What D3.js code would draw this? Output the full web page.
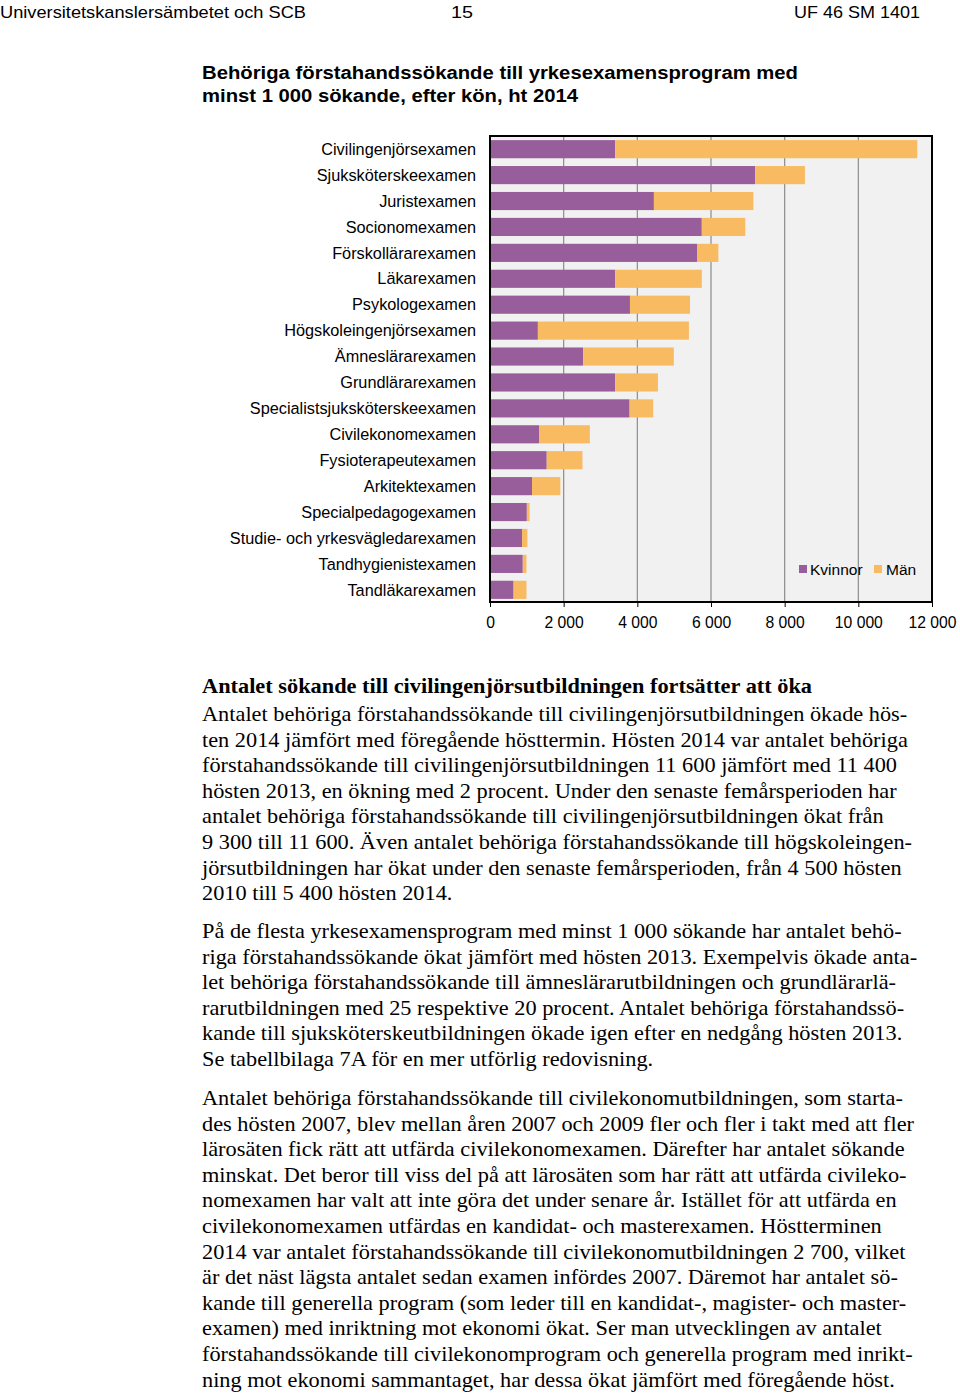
<!DOCTYPE html>
<html>
<head>
<meta charset="utf-8">
<script src="https://cdn.jsdelivr.net/npm/d3@7"></script>
<style>
  html, body { margin: 0; padding: 0; background: #fff; }
  svg { display: block; }
</style>
</head>
<body>
<svg id="page" width="960" height="1393"></svg>
<script>
const categories = [
  "Civilingenjörsexamen", "Sjuksköterskeexamen", "Juristexamen", "Socionomexamen",
  "Förskollärarexamen", "Läkarexamen", "Psykologexamen", "Högskoleingenjörsexamen",
  "Ämneslärarexamen", "Grundlärarexamen", "Specialistsjuksköterskeexamen",
  "Civilekonomexamen", "Fysioterapeutexamen", "Arkitektexamen", "Specialpedagogexamen",
  "Studie- och yrkesvägledarexamen", "Tandhygienistexamen", "Tandläkarexamen"
];
const women = [3400, 7200, 4450, 5750, 5620, 3400, 3800, 1300, 2530, 3400, 3790, 1330, 1540, 1140, 1000, 870, 890, 640];
const men   = [8200, 1350, 2700, 1180,  580, 2350, 1630, 4100, 2460, 1160,  640, 1380,  970,  770,   75, 145, 100, 350];
const xTicks = [0, 2000, 4000, 6000, 8000, 10000, 12000];
const seriesNames = ["Kvinnor", "Män"];
const seriesColors = ["#985d9b", "#f8bb61"];

const headerLeft = "Universitetskanslersämbetet och SCB";
const headerMid = "15";
const headerRight = "UF 46 SM 1401";
const titleLines = [
  "Behöriga förstahandssökande till yrkesexamensprogram med",
  "minst 1 000 sökande, efter kön, ht 2014"
];
const heading = "Antalet sökande till civilingenjörsutbildningen fortsätter att öka";
const para1 = [
  "Antalet behöriga förstahandssökande till civilingenjörsutbildningen ökade hös-",
  "ten 2014 jämfört med föregående hösttermin. Hösten 2014 var antalet behöriga",
  "förstahandssökande till civilingenjörsutbildningen 11 600 jämfört med 11 400",
  "hösten 2013, en ökning med 2 procent. Under den senaste femårsperioden har",
  "antalet behöriga förstahandssökande till civilingenjörsutbildningen ökat från",
  "9 300 till 11 600. Även antalet behöriga förstahandssökande till högskoleingen-",
  "jörsutbildningen har ökat under den senaste femårsperioden, från 4 500 hösten",
  "2010 till 5 400 hösten 2014."
];
const para2 = [
  "På de flesta yrkesexamensprogram med minst 1 000 sökande har antalet behö-",
  "riga förstahandssökande ökat jämfört med hösten 2013. Exempelvis ökade anta-",
  "let behöriga förstahandssökande till ämneslärarutbildningen och grundlärarlä-",
  "rarutbildningen med 25 respektive 20 procent. Antalet behöriga förstahandssö-",
  "kande till sjuksköterskeutbildningen ökade igen efter en nedgång hösten 2013.",
  "Se tabellbilaga 7A för en mer utförlig redovisning."
];
const para3 = [
  "Antalet behöriga förstahandssökande till civilekonomutbildningen, som starta-",
  "des hösten 2007, blev mellan åren 2007 och 2009 fler och fler i takt med att fler",
  "lärosäten fick rätt att utfärda civilekonomexamen. Därefter har antalet sökande",
  "minskat. Det beror till viss del på att lärosäten som har rätt att utfärda civileko-",
  "nomexamen har valt att inte göra det under senare år. Istället för att utfärda en",
  "civilekonomexamen utfärdas en kandidat- och masterexamen. Höstterminen",
  "2014 var antalet förstahandssökande till civilekonomutbildningen 2 700, vilket",
  "är det näst lägsta antalet sedan examen infördes 2007. Däremot har antalet sö-",
  "kande till generella program (som leder till en kandidat-, magister- och master-",
  "examen) med inriktning mot ekonomi ökat. Ser man utvecklingen av antalet",
  "förstahandssökande till civilekonomprogram och generella program med inrikt-",
  "ning mot ekonomi sammantaget, har dessa ökat jämfört med föregående höst."
];

const svg = d3.select("#page");
const SANS = "'Liberation Sans', Arial, Helvetica, sans-serif";
const SERIF = "'Liberation Serif', 'Times New Roman', Times, serif";

function fitText(sel, w) {
  sel.attr("textLength", w).attr("lengthAdjust", "spacingAndGlyphs");
}

// ---------- Header ----------
const hdr = svg.append("g").attr("font-family", SANS).attr("font-size", 17).attr("fill", "#000");
hdr.append("text").attr("x", 0).attr("y", 18).text(headerLeft).call(fitText, 306);
hdr.append("text").attr("x", 451).attr("y", 18).text(headerMid).call(fitText, 22);
hdr.append("text").attr("x", 794).attr("y", 18).text(headerRight).call(fitText, 126);

// ---------- Title ----------
const tg = svg.append("g").attr("font-family", SANS).attr("font-size", 18).attr("font-weight", "bold");
tg.append("text").attr("x", 202).attr("y", 79).text(titleLines[0]).call(fitText, 596);
tg.append("text").attr("x", 202).attr("y", 102).text(titleLines[1]).call(fitText, 376);

// ---------- Chart ----------
const plot = { left: 490, right: 932, top: 136, bottom: 602 };
const x = d3.scaleLinear().domain([0, 12000]).range([plot.left, plot.right]);
const y = d3.scaleBand().domain(categories).range([plot.top + 1, plot.bottom]).paddingInner(0.3).paddingOuter(0.12);

svg.append("rect")
  .attr("x", plot.left).attr("y", plot.top)
  .attr("width", plot.right - plot.left).attr("height", plot.bottom - plot.top)
  .attr("fill", "#f1f1f1");

// gridlines
svg.append("g").selectAll("line").data(xTicks.slice(1, -1)).join("line")
  .attr("x1", d => x(d)).attr("x2", d => x(d))
  .attr("y1", plot.top).attr("y2", plot.bottom)
  .attr("stroke", "#8c8c8c").attr("stroke-width", 1.2);

// stacked bars
const rows = categories.map((c, i) => ({ c, w: women[i], m: men[i] }));
const stack = d3.stack().keys(["w", "m"])(rows);
svg.append("g").selectAll("g").data(stack).join("g")
  .attr("fill", (d, i) => seriesColors[i])
  .selectAll("rect").data(d => d).join("rect")
  .attr("x", d => x(d[0]))
  .attr("width", d => x(d[1]) - x(d[0]))
  .attr("y", d => y(d.data.c))
  .attr("height", y.bandwidth());

// frame
svg.append("rect")
  .attr("x", plot.left).attr("y", plot.top)
  .attr("width", plot.right - plot.left).attr("height", plot.bottom - plot.top)
  .attr("fill", "none").attr("stroke", "#000").attr("stroke-width", 2);

// x axis
const xAxis = d3.axisBottom(x).tickValues(xTicks)
  .tickFormat(d => d3.format(",")(d).replace(/,/g, " "))
  .tickSize(5).tickPadding(10);
const xa = svg.append("g").attr("transform", `translate(0,${plot.bottom})`).call(xAxis);
xa.select(".domain").remove();
xa.selectAll(".tick line").attr("stroke", "#000").attr("stroke-width", 1);
xa.selectAll(".tick text").attr("font-family", SANS).attr("font-size", 15.7).attr("fill", "#000");

// y labels
const yAxis = d3.axisLeft(y).tickSize(0).tickPadding(14);
const ya = svg.append("g").attr("transform", `translate(${plot.left},0)`).call(yAxis);
ya.select(".domain").remove();
ya.selectAll(".tick text").attr("font-family", SANS).attr("font-size", 16.3)
  .attr("fill", "#000").attr("dy", "0.35em");

// legend
const lg = svg.append("g").attr("font-family", SANS).attr("font-size", 15.5);
const legendItems = [{ x: 799, tx: 810 }, { x: 874, tx: 886 }];
seriesNames.forEach((n, i) => {
  lg.append("rect").attr("x", legendItems[i].x).attr("y", 565).attr("width", 8).attr("height", 8).attr("fill", seriesColors[i]);
  lg.append("text").attr("x", legendItems[i].tx).attr("y", 575).text(n);
});

// ---------- Body text ----------
const body = svg.append("g").attr("font-family", SERIF).attr("fill", "#000");
const hd = body.append("text").attr("x", 202).attr("y", 693)
  .attr("font-size", 21).attr("font-weight", "bold").text(heading);
fitText(hd, 610);

// measure a uniform horizontal scale for body text
const probe = body.append("text").attr("font-size", 21).text(para1[0]);
const natural = probe.node().getComputedTextLength();
probe.remove();
const sx = 706 / natural;

function drawPara(lines, y0) {
  lines.forEach((t, i) => {
    body.append("text")
      .attr("font-size", 21)
      .attr("transform", `translate(202,${y0 + i * 25.6}) scale(${sx},1)`)
      .text(t);
  });
}
drawPara(para1, 721);
drawPara(para2, 938);
drawPara(para3, 1105);
</script>
</body>
</html>
